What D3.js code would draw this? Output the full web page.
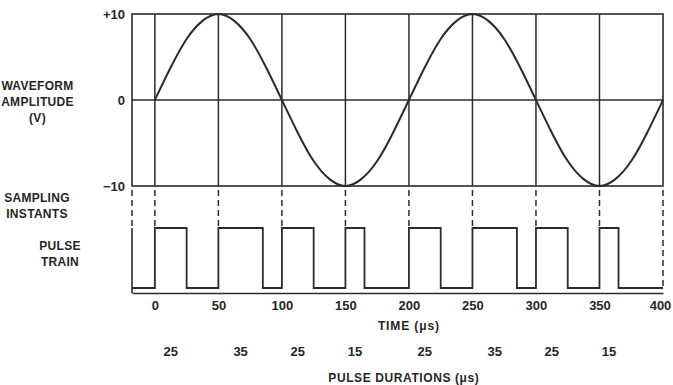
<!DOCTYPE html>
<html>
<head>
<meta charset="utf-8">
<script src="https://cdn.jsdelivr.net/npm/d3@7"></script>
<style>
  body { margin: 0; background: #fff; }
  svg text { font-family: "Liberation Sans", Arial, sans-serif; font-weight: bold; fill: #262626; }
</style>
</head>
<body>
<svg id="chart" width="673" height="385"></svg>
<script>
// waveform amplitude (V) every 12.5 us, 0..400 us
const waveTimes = d3.range(0, 401, 12.5);
const waveVolts = [0, 3.8, 7.1, 9.2, 10, 9.2, 7.1, 3.8, 0, -3.8, -7.1, -9.2, -10, -9.2, -7.1, -3.8,
                   0, 3.8, 7.1, 9.2, 10, 9.2, 7.1, 3.8, 0, -3.8, -7.1, -9.2, -10, -9.2, -7.1, -3.8, 0];

// sampling instants (us) and the pulse that starts at each
const sampleTimes = [0, 50, 100, 150, 200, 250, 300, 350, 400];
const pulseStarts = [0, 50, 100, 150, 200, 250, 300, 350];
const pulseDurations = [25, 35, 25, 15, 25, 35, 25, 15];

const timeTicks = [0, 50, 100, 150, 200, 250, 300, 350, 400];
const voltTicks = [10, 0, -10];
const voltTickLabels = ["+10", "0", "\u221210"];

const d3svg = d3.select("#chart");
const ink = "#2b2b2b";

// time axis starts a little before 0, where the frame's left edge is
let x = d3.scaleLinear().domain([-18, 400]).range([132, 663]);
let y = d3.scaleLinear().domain([-10, 10]).range([186, 14]);
let yp = d3.scaleLinear().domain([0, 1]).range([288, 228]);

// --- waveform panel ---
let panel = d3svg.append("g");

panel.append("rect")
  .attr("x", x(-18)).attr("y", y(10))
  .attr("width", x(400) - x(-18)).attr("height", y(-10) - y(10))
  .attr("fill", "none").attr("stroke", ink).attr("stroke-width", 1.6);

panel.selectAll("line.grid")
  .data(sampleTimes.slice(0, -1))
  .enter().append("line")
  .attr("class", "grid")
  .attr("x1", d => x(d)).attr("x2", d => x(d))
  .attr("y1", y(10)).attr("y2", y(-10))
  .attr("stroke", ink).attr("stroke-width", 1.5);

panel.append("line")
  .attr("x1", x(-18)).attr("x2", x(400))
  .attr("y1", y(0)).attr("y2", y(0))
  .attr("stroke", ink).attr("stroke-width", 1.5);

let line = d3.line()
  .x((d, i) => x(waveTimes[i]))
  .y(d => y(d))
  .curve(d3.curveNatural);

panel.append("path")
  .attr("d", line(waveVolts))
  .attr("fill", "none").attr("stroke", ink).attr("stroke-width", 2);

let yAxis = d3.axisLeft(y)
  .tickValues(voltTicks)
  .tickFormat((d, i) => voltTickLabels[i])
  .tickSize(0).tickPadding(7);

panel.append("g")
  .attr("transform", "translate(" + x(-18) + ",0)")
  .call(yAxis)
  .call(g => g.select(".domain").remove())
  .selectAll("text")
  .attr("font-size", 13).style("font-family", null);

// --- sampling instants (dashed) ---
panel.selectAll("line.sample")
  .data(sampleTimes)
  .enter().append("line")
  .attr("class", "sample")
  .attr("x1", d => x(d)).attr("x2", d => x(d))
  .attr("y1", y(-10) + 4)
  .attr("y2", d => d == 400 ? yp(0) : yp(1) - 2)
  .attr("stroke", ink).attr("stroke-width", 1.5)
  .attr("stroke-dasharray", "6,4");

panel.append("line")
  .attr("x1", x(-18)).attr("x2", x(-18))
  .attr("y1", y(-10) + 4).attr("y2", yp(1))
  .attr("stroke", ink).attr("stroke-width", 1.5)
  .attr("stroke-dasharray", "6,4");

// --- pulse train ---
let pts = [[-18, 0]];
pulseStarts.forEach((t, i) => {
  pts.push([t, 0], [t, 1], [t + pulseDurations[i], 1], [t + pulseDurations[i], 0]);
});
pts.push([400, 0]);

let pulseLine = d3.line().x(d => x(d[0])).y(d => yp(d[1]));

panel.append("path")
  .attr("d", pulseLine(pts))
  .attr("fill", "none").attr("stroke", ink).attr("stroke-width", 1.8)
  .attr("stroke-linejoin", "miter");

panel.append("line")
  .attr("x1", x(-18)).attr("x2", x(-18))
  .attr("y1", yp(1)).attr("y2", 293)
  .attr("stroke", ink).attr("stroke-width", 1.6);

let xAxis = d3.axisBottom(x)
  .tickValues(timeTicks)
  .tickFormat(d3.format("d"))
  .tickSize(0).tickSizeOuter(0).tickPadding(8);

let xg = panel.append("g")
  .attr("transform", "translate(0,293)")
  .call(xAxis);
xg.select(".domain").attr("stroke", ink).attr("stroke-width", 1.6);
xg.selectAll("text").attr("font-size", 13).style("font-family", null)
  .attr("dx", d => d == 400 ? -3 : 0);

// pulse durations, centred under each pulse
panel.selectAll("text.dur")
  .data(pulseDurations)
  .enter().append("text")
  .attr("class", "dur")
  .attr("x", (d, i) => x(pulseStarts[i] + d / 2))
  .attr("y", 356)
  .attr("text-anchor", "middle")
  .attr("font-size", 13)
  .text(d => d);

// --- titles ---
function label(lines, cx, y0, dy) {
  let t = d3svg.append("text").attr("text-anchor", "middle").attr("font-size", 12)
    .attr("letter-spacing", 0.3);
  lines.forEach((s, i) => t.append("tspan").attr("x", cx).attr("y", y0 + i * dy).text(s));
}
label(["WAVEFORM", "AMPLITUDE", "(V)"], 37.5, 90, 16);
label(["SAMPLING", "INSTANTS"], 37, 202, 16);
label(["PULSE", "TRAIN"], 60, 250, 16);

d3svg.append("text").attr("x", x(200)).attr("y", 330).attr("text-anchor", "middle")
  .attr("font-size", 12).attr("letter-spacing", 0.9).text("TIME (\u03bcs)");
d3svg.append("text").attr("x", x(196)).attr("y", 382).attr("text-anchor", "middle")
  .attr("font-size", 12).attr("letter-spacing", 0.6).text("PULSE DURATIONS (\u03bcs)");
</script>
</body>
</html>
